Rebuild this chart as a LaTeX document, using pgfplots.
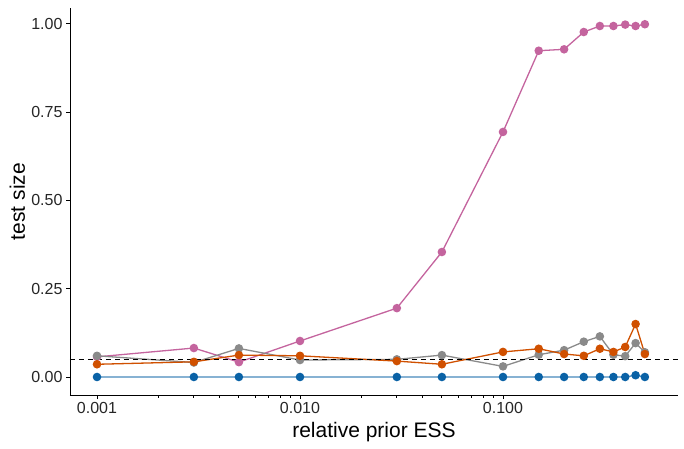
\documentclass[border=0pt]{standalone}
\usepackage{fontspec}
\setmainfont{Liberation Sans}
\usepackage{pgfplots}
\pgfplotsset{compat=1.18}

\definecolor{cpink}{HTML}{C4649E}
\definecolor{cgray}{HTML}{8A8A8A}
\definecolor{corange}{HTML}{D05000}
\definecolor{cblue}{HTML}{0A62A6}

\begin{document}
\begin{tikzpicture}
\begin{axis}[
  scale only axis,
  width=608pt, height=387pt,
  xmode=log,
  xmin=0.000736, xmax=0.728,
  ymin=-0.051, ymax=1.045,
  axis x line*=bottom, axis y line*=left,
  axis line style={black, line width=0.9pt},
  xtick={0.001,0.01,0.1},
  xticklabels={0.001,0.010,0.100},
  ytick={0,0.25,0.5,0.75,1},
  yticklabels={0.00,0.25,0.50,0.75,1.00},
  tick align=outside,
  major tick length=4pt,
  tick style={black, line width=0.9pt},
  minor tick num=0,
  ticklabel style={font=\fontsize{16}{18}\selectfont, text=black!85},
  xlabel={relative prior ESS},
  ylabel={test size},
  label style={font=\fontsize{21}{24}\selectfont},
  xlabel style={at={(axis description cs:0.5,0)}, anchor=base, yshift=-42pt},
  ylabel style={at={(axis description cs:0,0.5)}, anchor=base, yshift=45pt},
  every axis plot/.append style={line width=1.3pt, mark=*, mark size=3.6pt},
  clip=false,
]
\addplot[cpink, mark options={fill=cpink, draw=cpink}] coordinates {
 (0.001,0.057) (0.003,0.082) (0.005,0.042) (0.01,0.102) (0.03,0.195)
 (0.05,0.354) (0.1,0.694) (0.15,0.924) (0.2,0.928) (0.25,0.977)
 (0.3,0.994) (0.35,0.994) (0.4,0.998) (0.45,0.994) (0.5,0.999)
};
\addplot[cgray, mark options={fill=cgray, draw=cgray}] coordinates {
 (0.001,0.060) (0.003,0.041) (0.005,0.081) (0.01,0.048) (0.03,0.050)
 (0.05,0.062) (0.1,0.030) (0.15,0.063) (0.2,0.076) (0.25,0.100)
 (0.3,0.115) (0.35,0.063) (0.4,0.059) (0.45,0.096) (0.5,0.070)
};
\addplot[corange, mark options={fill=corange, draw=corange}] coordinates {
 (0.001,0.036) (0.003,0.043) (0.005,0.062) (0.01,0.060) (0.03,0.045)
 (0.05,0.036) (0.1,0.071) (0.15,0.080) (0.2,0.065) (0.25,0.060)
 (0.3,0.080) (0.35,0.071) (0.4,0.085) (0.45,0.150) (0.5,0.065)
};
\addplot[cblue!75, mark options={fill=cblue, draw=cblue}] coordinates {
 (0.001,0) (0.003,0) (0.005,0) (0.01,0) (0.03,0)
 (0.05,0) (0.1,0) (0.15,0) (0.2,0) (0.25,0)
 (0.3,0) (0.35,0) (0.4,0) (0.45,0.005) (0.5,0)
};
\addplot[black, line width=1.1pt, mark=none, dash pattern=on 5pt off 4pt] coordinates {
 (0.000736,0.05) (0.728,0.05)
};
\coordinate (ll) at (rel axis cs:0,0);
\coordinate (ur) at (rel axis cs:1,1);
\end{axis}
\pgfresetboundingbox
\path ([shift={(-70pt,-53pt)}]ll) rectangle ([shift={(6pt,8pt)}]ur);
\end{tikzpicture}
\end{document}
